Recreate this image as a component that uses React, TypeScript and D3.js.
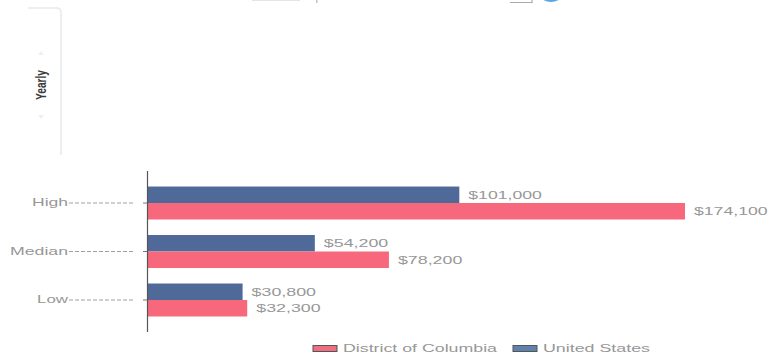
import React from "react";
import * as d3 from "d3";

const categories = ["High", "Median", "Low"];
const categoryWidths = [36, 58, 31];
const seriesNames = ["United States", "District of Columbia"];
const unitedStates = [101000, 54200, 30800];
const districtOfColumbia = [174100, 78200, 32300];
const seriesColors = ["#4f6a99", "#f7687c"];
const legendOrder = [
  { name: "District of Columbia", fill: "#ee6f82", swatchX: 313, textX: 343, width: 154 },
  { name: "United States", fill: "#5f82ad", swatchX: 513, textX: 543, width: 107 },
];

const fmt = (v: number) => "$" + d3.format(",")(v);

export default function App() {
  const x = d3.scaleLinear().domain([0, 174100]).range([147.5, 685]);
  const y = d3.scaleBand<string>().domain(categories).range([171, 332]).paddingInner(0.32).paddingOuter(0.32);
  const sub = d3.scaleBand<string>().domain(seriesNames).range([0, y.bandwidth()]);
  const values = [unitedStates, districtOfColumbia];
  const font = "'Liberation Sans', Arial, sans-serif";
  const grey = "#979797";

  return (
    <svg width={768} height={356} style={{ position: "absolute", left: 0, top: 0, background: "#fff" }}>
      {/* Side tab with the period selector */}
      <path d="M28 8 H57 Q61 8 61 13 V155" fill="none" stroke="#e8e9ec" strokeWidth={1.5} />
      <path d="M38 55 L41 51 L44 55 Z" fill="#efefef" />
      <path d="M38 115 L41 119 L44 115 Z" fill="#efefef" />
      <text transform="translate(46,100) rotate(-90)" fontFamily="'Liberation Sans Narrow', 'Liberation Sans', sans-serif"
        fontSize={15} fontWeight={700} fill="#3a3a3a" textLength={30} lengthAdjust="spacingAndGlyphs">Yearly</text>

      {/* Header fragments along the top edge */}
      <rect x={252} y={0} width={48} height={1} fill="#e4e4e4" />
      <rect x={316} y={0} width={1.5} height={3} fill="#c4c4c4" />
      <path d="M510 2.5 H532 V0" fill="none" stroke="#a9a9a9" strokeWidth={1.2} />
      <ellipse cx={551} cy={-4} rx={10} ry={6} fill="#5aa5e6" />

      {categories.map((c, i) => {
        const cy = (y(c) as number) + y.bandwidth() / 2;
        return (
          <g key={c}>
            <text x={68 - categoryWidths[i]} y={cy + 3} fontFamily={font} fontSize={11} fill={grey}
              textLength={categoryWidths[i]} lengthAdjust="spacingAndGlyphs">{c}</text>
            <line x1={69} x2={135} y1={cy} y2={cy} stroke="#a0a0a0" strokeWidth={1} strokeDasharray="4 2" />
            <line x1={143} x2={147} y1={cy} y2={cy} stroke="#777" strokeWidth={1} />
            {seriesNames.map((s, k) => {
              const v = values[k][i];
              const label = fmt(v);
              const by = (y(c) as number) + (sub(s) as number);
              return (
                <g key={s}>
                  <rect x={x(0)} y={by} width={x(v) - x(0)} height={sub.bandwidth()} fill={seriesColors[k]} />
                  <text x={x(v) + 9} y={by + sub.bandwidth() / 2 + 4} fontFamily={font} fontSize={11} fill={grey}
                    textLength={label.length * 9.2} lengthAdjust="spacingAndGlyphs">{label}</text>
                </g>
              );
            })}
          </g>
        );
      })}

      <line x1={147.5} x2={147.5} y1={171} y2={332} stroke="#555" strokeWidth={1.2} />

      {legendOrder.map((l) => (
        <g key={l.name}>
          <rect x={l.swatchX} y={345.5} width={24} height={6} fill={l.fill} stroke="#555" strokeWidth={1} />
          <text x={l.textX} y={352} fontFamily={font} fontSize={11} fill={grey} textLength={l.width} lengthAdjust="spacingAndGlyphs">{l.name}</text>
        </g>
      ))}
    </svg>
  );
}
